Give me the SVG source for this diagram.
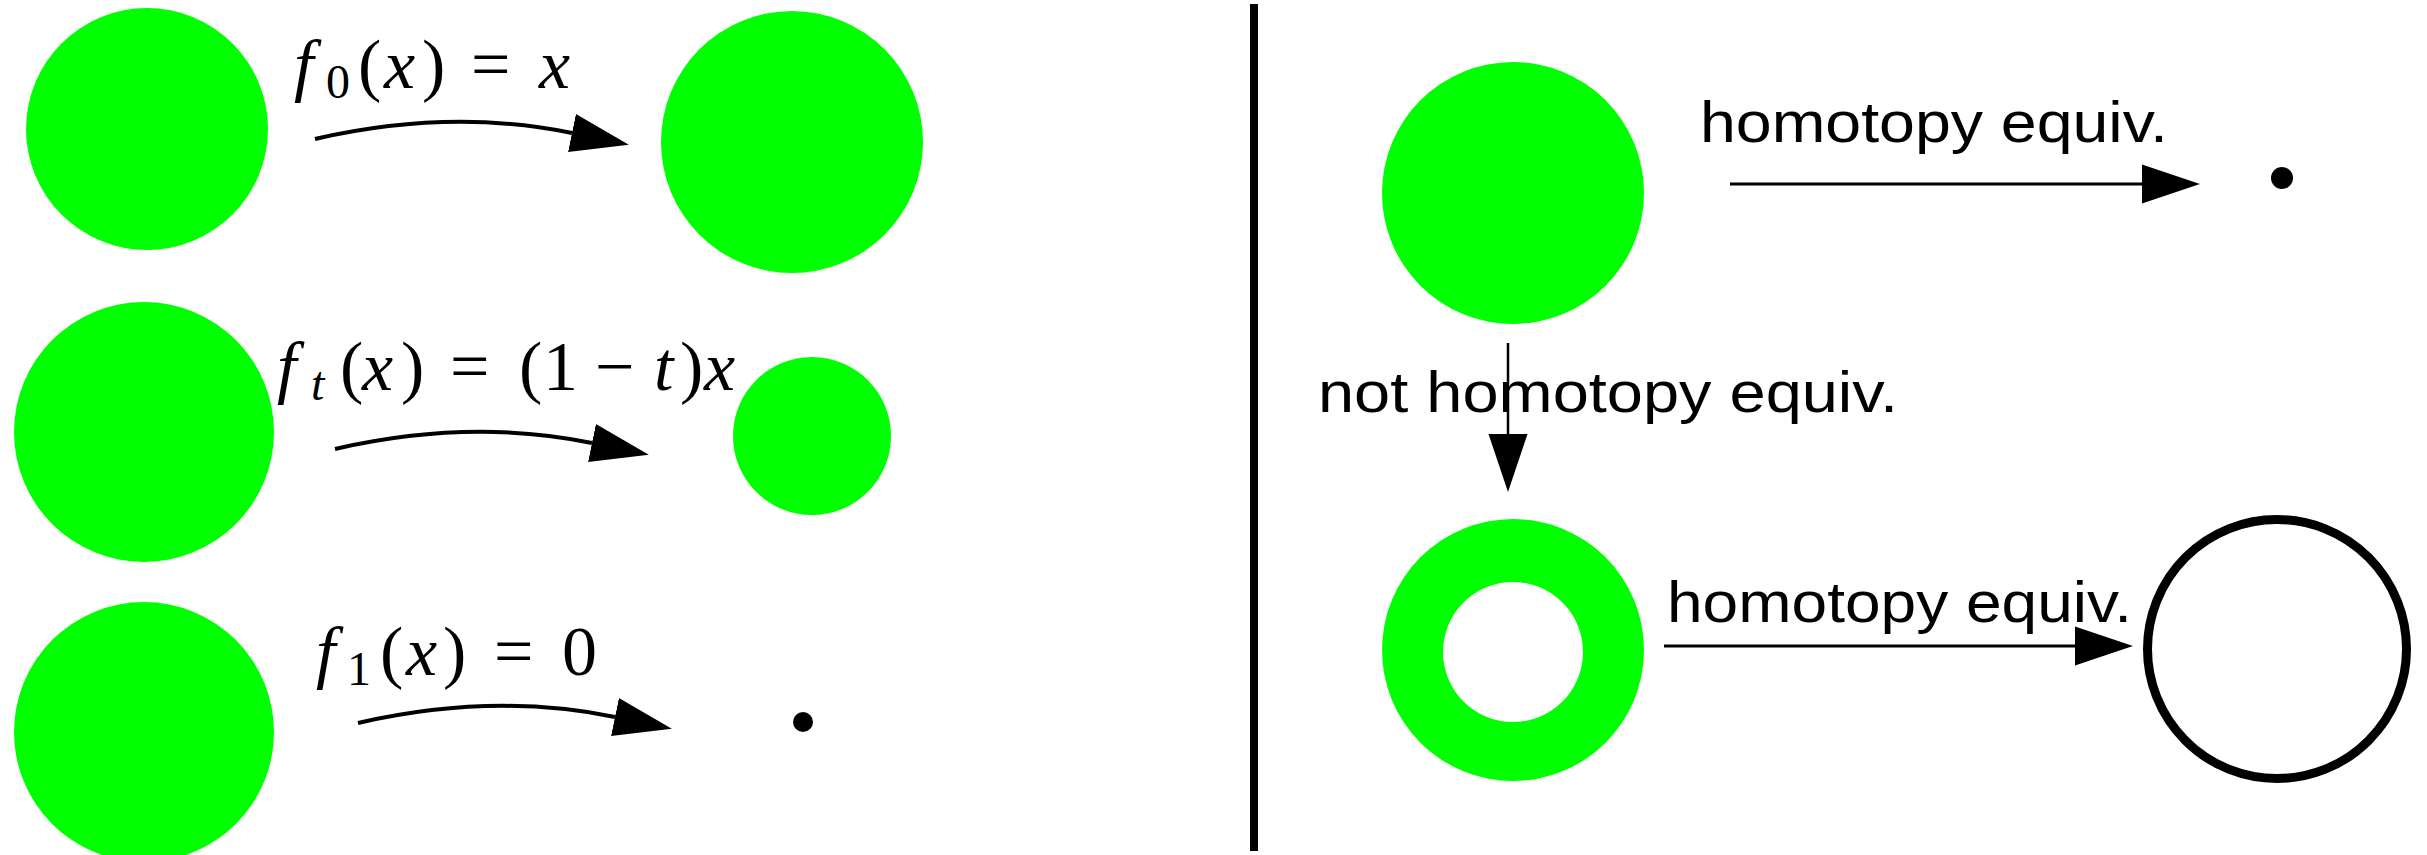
<svg xmlns="http://www.w3.org/2000/svg" width="2427" height="855" viewBox="0 0 2427 855">
<style>
.disk{fill:#00ff00}
.math{font-family:"Liberation Serif",serif;font-size:70px;fill:#000}
.it{font-style:italic}
.sub{font-size:48px}
.lbl{font-family:"Liberation Sans",sans-serif;font-size:58px;fill:#000}
.curve{fill:none;stroke:#000;stroke-width:4}
.straight{fill:none;stroke:#000;stroke-width:3}
.thin{fill:none;stroke:#000;stroke-width:2.5}
</style>
<defs>
<marker id="head" markerUnits="userSpaceOnUse" markerWidth="60" markerHeight="42" refX="0" refY="21" orient="auto" viewBox="0 0 60 42">
<path d="M0,1.5 L58,21 L0,40.5 z" fill="#000"/>
</marker>
</defs>

<g id="divider"><line x1="1254" y1="4" x2="1254" y2="851" stroke="#000" stroke-width="8"/></g>

<g id="disk-a1"><circle class="disk" cx="147" cy="129" r="121"/></g>
<g id="disk-a2"><circle class="disk" cx="792" cy="142" r="131"/></g>
<g id="disk-b1"><circle class="disk" cx="144" cy="432" r="130"/></g>
<g id="disk-b2"><circle class="disk" cx="812" cy="436" r="79"/></g>
<g id="disk-c1"><circle class="disk" cx="144" cy="732" r="130"/></g>
<g id="point-c2"><circle cx="803" cy="722" r="10" fill="#000"/></g>

<g id="disk-r1"><circle class="disk" cx="1513" cy="193" r="131"/></g>
<g id="point-r1"><circle cx="2282" cy="178" r="11" fill="#000"/></g>
<g id="annulus-r2"><path class="disk" fill-rule="evenodd" d="M1382,650 a131,131 0 1,0 262,0 a131,131 0 1,0 -262,0 z M1443,652 a70,70 0 1,0 140,0 a70,70 0 1,0 -140,0 z"/></g>
<g id="circle-r2"><circle cx="2277" cy="649" r="129.5" fill="none" stroke="#000" stroke-width="9"/></g>

<g id="connectors">
<path class="curve" d="M315,139 Q450,108 572,133" marker-end="url(#head)"/>
<path class="curve" d="M315,139 Q450,108 572,133" transform="translate(20,310)" marker-end="url(#head)"/>
<path class="curve" d="M315,139 Q450,108 572,133" transform="translate(43,584)" marker-end="url(#head)"/>
<line class="straight" x1="1730" y1="184" x2="2142" y2="184" marker-end="url(#head)"/>
<line class="thin" x1="1508" y1="343" x2="1508" y2="434" marker-end="url(#head)"/>
<line class="straight" x1="1664" y1="646" x2="2075" y2="646" marker-end="url(#head)"/>
</g>

<g id="labels">
<text class="math" y="88"><tspan class="it" x="294">f</tspan><tspan class="sub" x="326" dy="10">0</tspan><tspan x="358" dy="-10">(</tspan><tspan class="it" x="384">x</tspan><tspan x="422">)</tspan><tspan x="471">=</tspan><tspan class="it" x="539">x</tspan></text>
<text class="math" y="390"><tspan class="it" x="277">f</tspan><tspan class="sub it" x="311" dy="10">t</tspan><tspan x="340" dy="-10">(</tspan><tspan class="it" x="362">x</tspan><tspan x="401">)</tspan><tspan x="450">=</tspan><tspan x="519">(</tspan><tspan x="543">1</tspan><tspan x="595">−</tspan><tspan class="it" x="654">t</tspan><tspan x="680">)</tspan><tspan class="it" x="704">x</tspan></text>
<text class="math" y="675"><tspan class="it" x="316">f</tspan><tspan class="sub" x="347" dy="10">1</tspan><tspan x="380" dy="-10">(</tspan><tspan class="it" x="406">x</tspan><tspan x="443">)</tspan><tspan x="494">=</tspan><tspan x="562">0</tspan></text>
<text class="lbl" x="1700" y="142" textLength="468" lengthAdjust="spacingAndGlyphs">homotopy equiv.</text>
<text class="lbl" x="1318" y="412" textLength="580" lengthAdjust="spacingAndGlyphs">not homotopy equiv.</text>
<text class="lbl" x="1667" y="622" textLength="465" lengthAdjust="spacingAndGlyphs">homotopy equiv.</text>
</g>
</svg>
